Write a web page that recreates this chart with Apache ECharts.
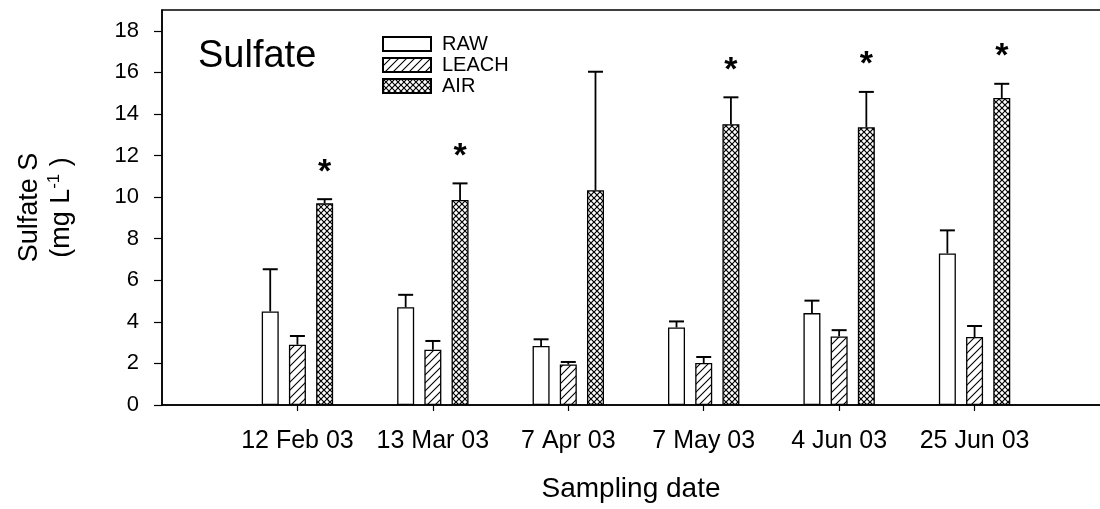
<!DOCTYPE html>
<html>
<head>
<meta charset="utf-8">
<script src="https://cdn.jsdelivr.net/npm/echarts@6/dist/echarts.min.js"></script>
<style>
    html, body { margin: 0; padding: 0; background: #fff; }
    #chart { width: 1100px; height: 509px; }
</style>
</head>
<body>
<div id="chart"></div>
<script>
// values (mg L-1), one entry per sampling date
const dates = ['12 Feb 03', '13 Mar 03', '7 Apr 03', '7 May 03', '4 Jun 03', '25 Jun 03'];
const rawMean = [4.50, 4.70, 2.84, 3.73, 4.42, 7.29];
const rawErr = [2.03, 0.60, 0.32, 0.29, 0.60, 1.11];
const leachMean = [2.90, 2.66, 1.95, 2.02, 3.30, 3.27];
const leachErr = [0.42, 0.42, 0.12, 0.29, 0.30, 0.53];
const airMean = [9.70, 9.86, 10.33, 13.51, 13.36, 14.77];
const airErr = [0.20, 0.80, 5.70, 1.29, 1.70, 0.68];
const airSig = [true, true, false, true, true, true];
const yTicks = [0, 2, 4, 6, 8, 10, 12, 14, 16, 18];

const FONT = "'Liberation Sans', Arial, Helvetica, sans-serif";
const BAR_W = 17;
const BAR_GAP = 0.6;

function hatchTile() {
    let c = document.createElement('canvas');
    c.width = 8; c.height = 8;
    let g = c.getContext('2d');
    g.fillStyle = '#fff';
    g.fillRect(0, 0, 8, 8);
    g.strokeStyle = '#000';
    g.lineWidth = 1.1;
    g.beginPath();
    g.moveTo(-1, 9); g.lineTo(9, -1);
    g.moveTo(-1, 1); g.lineTo(1, -1);
    g.moveTo(7, 9); g.lineTo(9, 7);
    g.stroke();
    return c;
}

function crossTile() {
    let c = document.createElement('canvas');
    c.width = 6; c.height = 6;
    let g = c.getContext('2d');
    g.fillStyle = '#fff';
    g.fillRect(0, 0, 6, 6);
    g.strokeStyle = '#000';
    g.lineWidth = 1.2;
    g.beginPath();
    g.moveTo(-1, 7); g.lineTo(7, -1);
    g.moveTo(-1, -1); g.lineTo(7, 7);
    g.stroke();
    return c;
}

// x axis has an empty slot on each side so the dates fall on points 1..6
let axisCats = [''].concat(dates, ['']);

function pairs(arr) {
    return arr.map((v, i) => [i + 1, v]);
}

function errData(mean, err, sig) {
    return mean.map((v, i) => [i + 1, v, err[i], sig ? (sig[i] ? 1 : 0) : 0]);
}

function errorBars(slot) {
    return function (params, api) {
        let x = api.value(0);
        let v = api.value(1);
        let e = api.value(2);
        let shift = (slot - 1) * BAR_W * (1 + BAR_GAP);
        let p0 = api.coord([x, v]);
        let p1 = api.coord([x, v + e]);
        let cx = p0[0] + shift;
        let kids = [
            { type: 'line', shape: { x1: cx, y1: p0[1], x2: cx, y2: p1[1] }, style: { stroke: '#000', lineWidth: 1.8 } },
            { type: 'line', shape: { x1: cx - 7.5, y1: p1[1], x2: cx + 7.5, y2: p1[1] }, style: { stroke: '#000', lineWidth: 2 } }
        ];
        if (api.value(3) === 1) {
            kids.push({
                type: 'text',
                style: { text: '*', x: cx, y: p1[1] - 27, align: 'center', verticalAlign: 'middle', fontSize: 34, fontWeight: 'bold', fontFamily: FONT, fill: '#000' }
            });
        }
        return { type: 'group', children: kids };
    };
}

let chart = echarts.init(document.getElementById('chart'));

let barBase = {
    type: 'bar',
    barWidth: BAR_W,
    barGap: (BAR_GAP * 100) + '%',
    animation: false
};

let option = {
    animation: false,
    backgroundColor: '#fff',
    title: {
        text: 'Sulfate',
        left: 193,
        top: 33,
        textStyle: { fontFamily: FONT, fontSize: 38, fontWeight: 'normal', color: '#000' }
    },
    legend: {
        orient: 'vertical',
        left: 382,
        top: 34,
        padding: 0,
        itemWidth: 48,
        itemHeight: 14,
        itemGap: 1,
        icon: 'rect',
        data: ['RAW', 'LEACH', 'AIR'],
        textStyle: { fontFamily: FONT, fontSize: 20, color: '#000', padding: [0, 0, 0, 6] }
    },
    grid: {
        left: 162,
        width: 948,
        top: 10,
        bottom: 104,
        outerBoundsMode: 'none',
        show: true,
        borderColor: '#000',
        borderWidth: 1.5
    },
    xAxis: {
        type: 'category',
        data: axisCats,
        boundaryGap: false,
        name: 'Sampling date',
        nameLocation: 'middle',
        nameGap: 70,
        nameTextStyle: { fontFamily: FONT, fontSize: 28, color: '#000', padding: [0, 10, 0, 0] },
        axisLine: { lineStyle: { color: '#000', width: 1.5 } },
        axisTick: {
            length: 6,
            interval: (i) => i > 0 && i < axisCats.length - 1,
            lineStyle: { color: '#000', width: 1.2 }
        },
        axisLabel: {
            interval: 0,
            margin: 24,
            fontFamily: FONT,
            fontSize: 25,
            color: '#000'
        },
        splitLine: { show: false }
    },
    yAxis: {
        type: 'value',
        min: 0,
        max: 19,
        interval: 2,
        name: 'Sulfate S\n{t|(mg L}{s|-1}{t| )}',
        nameLocation: 'middle',
        nameRotate: 90,
        nameGap: 84,
        nameTextStyle: {
            fontFamily: FONT,
            fontSize: 27,
            lineHeight: 32,
            color: '#000',
            rich: {
                t: { fontFamily: FONT, fontSize: 27, color: '#000' },
                s: { fontFamily: FONT, fontSize: 17, color: '#000', verticalAlign: 'top', padding: [0, 0, 14, 0] }
            }
        },
        axisLine: { show: true, lineStyle: { color: '#000', width: 1.5 } },
        axisTick: {
            show: true,
            length: 8,
            customValues: yTicks,
            lineStyle: { color: '#000', width: 1.2 }
        },
        axisLabel: {
            margin: 23,
            customValues: yTicks,
            fontFamily: FONT,
            fontSize: 22,
            color: '#000'
        },
        splitLine: { show: false }
    },
    series: [
        Object.assign({}, barBase, {
            name: 'RAW',
            data: pairs(rawMean),
            itemStyle: { color: '#fff', borderColor: '#000', borderWidth: 1.3 }
        }),
        Object.assign({}, barBase, {
            name: 'LEACH',
            data: pairs(leachMean),
            itemStyle: { color: { image: hatchTile(), repeat: 'repeat' }, borderColor: '#000', borderWidth: 1.3 }
        }),
        Object.assign({}, barBase, {
            name: 'AIR',
            data: pairs(airMean),
            itemStyle: { color: { image: crossTile(), repeat: 'repeat' }, borderColor: '#000', borderWidth: 1.3 }
        }),
        {
            type: 'custom',
            renderItem: errorBars(0),
            data: errData(rawMean, rawErr, null),
            encode: { x: 0, y: 1 },
            z: 3
        },
        {
            type: 'custom',
            renderItem: errorBars(1),
            data: errData(leachMean, leachErr, null),
            encode: { x: 0, y: 1 },
            z: 3
        },
        {
            type: 'custom',
            renderItem: errorBars(2),
            data: errData(airMean, airErr, airSig),
            encode: { x: 0, y: 1 },
            z: 3
        }
    ]
};

chart.setOption(option);
</script>
</body>
</html>
